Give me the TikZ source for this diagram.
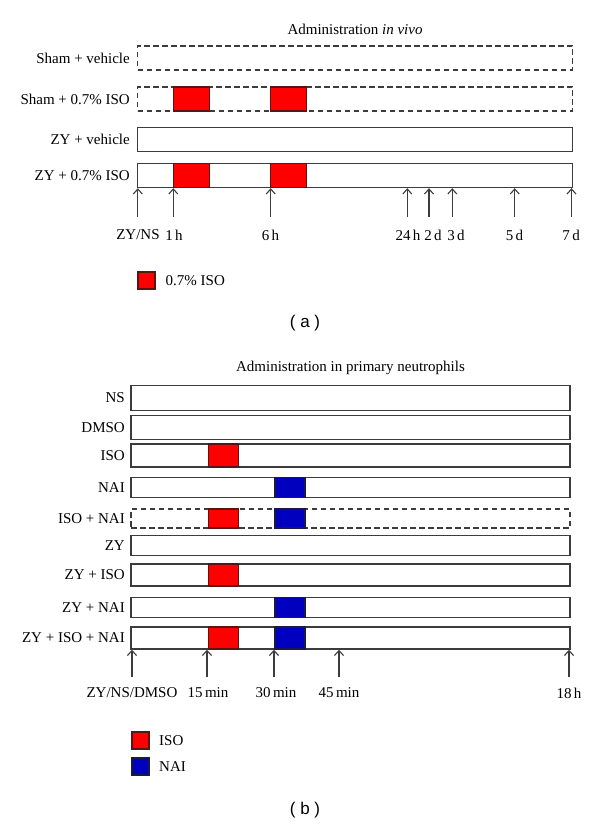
\documentclass[tikz,border=0pt]{standalone}
\usepackage{fontspec}
\setmainfont{Liberation Serif}
\setsansfont{Liberation Sans}
\usetikzlibrary{arrows.meta}
\definecolor{rowgray}{RGB}{60,60,60}
\definecolor{isored}{RGB}{255,0,0}
\definecolor{isoedge}{RGB}{90,20,20}
\definecolor{naiblue}{RGB}{0,0,190}
\definecolor{naiedge}{RGB}{25,25,70}

\begin{document}
\begin{tikzpicture}[x=1pt,y=-1pt,
    font=\fontsize{15}{18}\selectfont,
    rowa/.style={draw=rowgray,line width=1.4pt,inner sep=0pt,minimum width=435pt,minimum height=24pt},
    rowb/.style={draw=rowgray,line width=1.4pt,inner sep=0pt,minimum width=439pt,minimum height=#1},
    dashrow/.style={dash pattern=on 5.5pt off 3.5pt},
    isoa/.style={draw=isoedge,fill=isored,line width=1.4pt,inner sep=0pt,minimum width=36pt,minimum height=24pt},
    iso/.style={draw=isoedge,fill=isored,line width=1.4pt,inner sep=0pt,minimum width=30pt,minimum height=#1},
    nai/.style={draw=naiedge,fill=naiblue,line width=1.4pt,inner sep=0pt,minimum width=30pt,minimum height=#1},
    grp/.style={anchor=east,inner sep=0pt},
    timearrow/.style={draw=rowgray,line width=1.1pt,-{Straight Barb[length=5pt,width=9pt]}},
    caplabel/.style={font=\fontsize{17}{20}\sffamily\selectfont}]
    \useasboundingbox (0,0) rectangle (600,826);

    \node (ta) at (355,29.5) {Administration \textit{in vivo}};
    \node[rowa,dashrow] (r1) at (355,58) {};
    \node[rowa,dashrow] (r2) at (355,99) {};
    \node[rowa] (r3) at (355,139.5) {};
    \node[rowa] (r4) at (355,175.5) {};
    \node[isoa] (i21) at (191.3,99) {};
    \node[isoa] (i22) at (288.7,99) {};
    \node[isoa] (i41) at (191.3,175.5) {};
    \node[isoa] (i42) at (288.7,175.5) {};
    \node[grp] (g1) at (130,58) {Sham + vehicle};
    \node[grp] (g2) at (130,99) {Sham + 0.7\% ISO};
    \node[grp] (g3) at (130,139.5) {ZY + vehicle};
    \node[grp] (g4) at (130,175.5) {ZY + 0.7\% ISO};

    \coordinate (s1) at (137.8,217);
    \coordinate (s2) at (173.3,217);
    \coordinate (s3) at (270.7,217);
    \coordinate (s4) at (407.3,217);
    \coordinate (s5) at (429,217);
    \coordinate (s6) at (452.3,217);
    \coordinate (s7) at (514.7,217);
    \coordinate (s8) at (571.5,217);
    \draw[timearrow] (s1) -- (s1 |- r4.south);
    \draw[timearrow] (s2) -- (s2 |- r4.south);
    \draw[timearrow] (s3) -- (s3 |- r4.south);
    \draw[timearrow] (s4) -- (s4 |- r4.south);
    \draw[timearrow] (s5) -- (s5 |- r4.south);
    \draw[timearrow] (s6) -- (s6 |- r4.south);
    \draw[timearrow] (s7) -- (s7 |- r4.south);
    \draw[timearrow] (s8) -- (s8 |- r4.south);
    \node (h1) at (138,235) {ZY/NS};
    \node (h2) at (174,235) {1\,h};
    \node (h3) at (270.5,235) {6\,h};
    \node (h4) at (408,235) {24\,h};
    \node (h5) at (433,235) {2\,d};
    \node (h6) at (456,235) {3\,d};
    \node (h7) at (514.5,235) {5\,d};
    \node (h8) at (571,235) {7\,d};

    \node[isoa,minimum width=17pt,minimum height=17pt] (la) at (146.5,280.5) {};
    \node[anchor=west,inner sep=0pt] (lat) at (165.5,280.5) {0.7\% ISO};
    \node[caplabel] (capa) at (305,323) {( a )};

    \node (tb) at (350.5,368) {Administration in primary neutrophils};
    \node[rowb=25pt] (b1) at (350.5,398) {};
    \node[rowb=24pt] (b2) at (350.5,427.5) {};
    \node[rowb=23pt] (b3) at (350.5,455.5) {};
    \node[rowb=19.5pt] (b4) at (350.5,487.5) {};
    \node[rowb=19pt,dashrow] (b5) at (350.5,518.5) {};
    \node[rowb=19.5pt] (b6) at (350.5,545.5) {};
    \node[rowb=22pt] (b7) at (350.5,575) {};
    \node[rowb=19.5pt] (b8) at (350.5,607.5) {};
    \node[rowb=22pt] (b9) at (350.5,638) {};
    \node[iso=23pt] (k3) at (223.5,455.5) {};
    \node[nai=19.5pt] (n4) at (290,487.5) {};
    \node[iso=19pt] (k5) at (223.5,518.5) {};
    \node[nai=19pt] (n5) at (290,518.5) {};
    \node[iso=22pt] (k7) at (223.5,575) {};
    \node[nai=19.5pt] (n8) at (290,607.5) {};
    \node[iso=22pt] (k9) at (223.5,638) {};
    \node[nai=22pt] (n9) at (290,638) {};
    \node[grp] (c1) at (125,398) {NS};
    \node[grp] (c2) at (125,427.5) {DMSO};
    \node[grp] (c3) at (125,455.5) {ISO};
    \node[grp] (c4) at (125,487.5) {NAI};
    \node[grp] (c5) at (125,518.5) {ISO + NAI};
    \node[grp] (c6) at (125,545.5) {ZY};
    \node[grp] (c7) at (125,575) {ZY + ISO};
    \node[grp] (c8) at (125,607.5) {ZY + NAI};
    \node[grp] (c9) at (125,638) {ZY + ISO + NAI};

    \coordinate (u1) at (132,677);
    \coordinate (u2) at (207,677);
    \coordinate (u3) at (274,677);
    \coordinate (u4) at (339,677);
    \coordinate (u5) at (569,677);
    \draw[timearrow] (u1) -- (u1 |- b9.south);
    \draw[timearrow] (u2) -- (u2 |- b9.south);
    \draw[timearrow] (u3) -- (u3 |- b9.south);
    \draw[timearrow] (u4) -- (u4 |- b9.south);
    \draw[timearrow] (u5) -- (u5 |- b9.south);
    \node (m1) at (132,693) {ZY/NS/DMSO};
    \node (m2) at (208,693) {15\,min};
    \node (m3) at (276,693) {30\,min};
    \node (m4) at (339,693) {45\,min};
    \node (m5) at (569,693) {18\,h};

    \node[iso=17pt,minimum width=17pt] (lb1) at (140.5,740.5) {};
    \node[nai=17pt,minimum width=17pt] (lb2) at (140.5,766.5) {};
    \node[anchor=west,inner sep=0pt] (lb1t) at (159,740.5) {ISO};
    \node[anchor=west,inner sep=0pt] (lb2t) at (159,766.5) {NAI};
    \node[caplabel] (capb) at (305,810) {( b )};
\end{tikzpicture}
\end{document}
